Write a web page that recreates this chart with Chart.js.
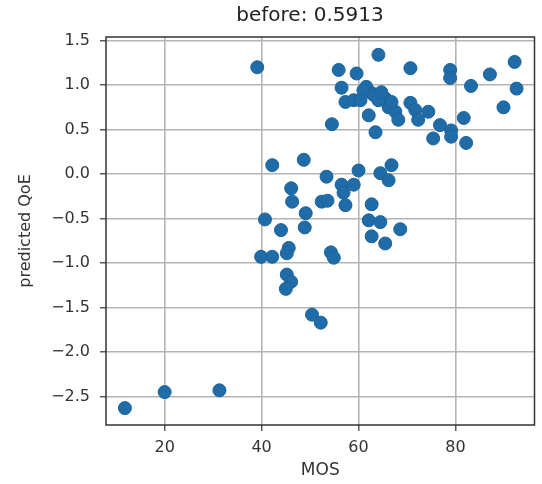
<!doctype html>
<html lang="en">
<head>
  <meta charset="utf-8">
  <title>before: 0.5913</title>
  <style>
    body { margin: 0; background: #fff; }
    #wrap { width: 542px; height: 484px; }
  </style>
</head>
<body>
  <div id="wrap">
    <canvas id="chart_scatter" width="542" height="484"></canvas>
  </div>

  <script src="https://cdn.jsdelivr.net/npm/chart.js"></script>
  <script>
    // MOS vs predicted QoE
    const mos_values = [
      39.1, 64.1, 70.7, 55.9, 59.6, 56.5, 61.6, 62.7, 57.3, 59.0,
      65.5, 66.2, 67.6, 68.2, 70.7, 71.7, 74.4, 72.3, 62.1, 54.5,
      63.5, 78.9, 78.9, 83.2, 87.1, 92.2, 92.6, 89.9, 76.8, 81.7,
      79.1, 79.1, 75.4, 82.2, 63.1, 64.1, 61.0, 60.4, 64.7, 66.8,
      48.7, 42.2, 53.4, 60.0, 64.5, 66.8, 66.2, 56.5, 59.0, 46.1,
      46.3, 52.4, 53.6, 56.9, 57.3, 62.7, 49.1, 48.9, 40.7, 44.0,
      62.1, 64.5, 68.6, 62.7, 65.5, 45.6, 45.2, 39.9, 42.2, 54.3,
      54.9, 45.2, 46.1, 45.0, 50.4, 52.2, 11.8, 20.0, 31.3
    ];
    const qoe_values = [
      1.20, 1.34, 1.19, 1.17, 1.13, 0.97, 0.98, 0.91, 0.81, 0.83,
      0.85, 0.75, 0.70, 0.61, 0.80, 0.72, 0.70, 0.61, 0.66, 0.56,
      0.47, 1.17, 1.08, 0.99, 1.12, 1.26, 0.96, 0.75, 0.55, 0.63,
      0.49, 0.42, 0.40, 0.35, 0.89, 0.83, 0.94, 0.83, 0.92, 0.81,
      0.16, 0.10, -0.03, 0.04, 0.01, 0.10, -0.07, -0.12, -0.12, -0.16,
      -0.31, -0.31, -0.30, -0.21, -0.35, -0.34, -0.44, -0.60, -0.51, -0.63,
      -0.52, -0.54, -0.62, -0.70, -0.78, -0.83, -0.89, -0.93, -0.93, -0.88,
      -0.94, -1.13, -1.21, -1.29, -1.58, -1.67, -2.63, -2.45, -2.43
    ];
    const x_ticks = [20, 40, 60, 80];
    const y_ticks = [-2.5, -2.0, -1.5, -1.0, -0.5, 0.0, 0.5, 1.0, 1.5];

    const points = mos_values.map((x, i) => ({ x: x, y: qoe_values[i] }));

    // axes box and title, drawn matplotlib style
    const framePlugin = {
      id: 'frame',
      afterDraw(chart) {
        const ctx = chart.ctx;
        const a = chart.chartArea;
        ctx.save();
        ctx.strokeStyle = '#333';
        ctx.lineWidth = 1.5;
        ctx.strokeRect(a.left, a.top, a.right - a.left, a.bottom - a.top);
        ctx.fillStyle = '#222';
        ctx.font = '20px "DejaVu Sans"';
        ctx.textAlign = 'center';
        ctx.textBaseline = 'middle';
        ctx.fillText('before: 0.5913', 310, 16);
        ctx.restore();
      }
    };

    const config_scatter = {
      type: 'scatter',
      data: {
        datasets: [{
          data: points,
          backgroundColor: '#1f6ca8',
          borderColor: '#1c6399',
          borderWidth: 1,
          pointRadius: 6.5,
          pointHoverRadius: 6.5
        }]
      },
      options: {
        responsive: false,
        animation: false,
        layout: { padding: { top: 37, right: 5, left: 0, bottom: 0 } },
        plugins: {
          legend: { display: false },
          tooltip: { enabled: false }
        },
        scales: {
          x: {
            type: 'linear',
            min: 7.9,
            max: 96.3,
            afterBuildTicks: (scale) => { scale.ticks = x_ticks.map(v => ({ value: v })); },
            afterFit: (scale) => { scale.height = 59; },
            border: { display: false },
            grid: { color: '#b4b4b4', lineWidth: 1.6, tickColor: '#333', tickLength: 6, tickWidth: 1.2 },
            ticks: {
              color: '#333',
              padding: 7,
              maxRotation: 0,
              font: { family: 'DejaVu Sans', size: 16 },
              callback: (v) => String(v)
            },
            title: {
              display: true,
              text: 'MOS',
              color: '#333',
              font: { family: 'DejaVu Sans', size: 17 },
              padding: { top: 0, bottom: 3 }
            }
          },
          y: {
            type: 'linear',
            min: -2.82,
            max: 1.54,
            afterBuildTicks: (scale) => { scale.ticks = y_ticks.map(v => ({ value: v })); },
            afterFit: (scale) => { scale.width = 106; },
            border: { display: false },
            grid: { color: '#b4b4b4', lineWidth: 1.6, tickColor: '#333', tickLength: 6, tickWidth: 1.2 },
            ticks: {
              color: '#333',
              padding: 10,
              font: { family: 'DejaVu Sans', size: 16 },
              callback: (v) => v.toFixed(1).replace('-', '\u2212')
            },
            title: {
              display: true,
              text: 'predicted QoE',
              color: '#333',
              font: { family: 'DejaVu Sans', size: 16 },
              padding: { top: 16, bottom: 0 }
            }
          }
        }
      },
      plugins: [framePlugin]
    };

    const chart_scatter = new Chart(
      document.getElementById('chart_scatter'),
      config_scatter
    );
  </script>
</body>
</html>
